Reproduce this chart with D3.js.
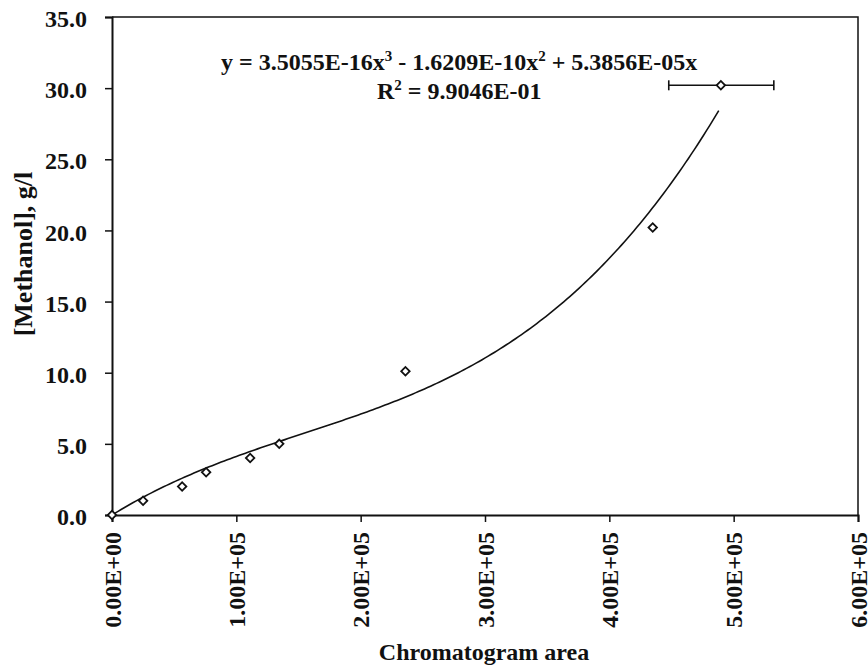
<!DOCTYPE html>
<html><head><meta charset="utf-8">
<script src="https://cdn.jsdelivr.net/npm/d3@7"></script>
<style>
html,body{margin:0;padding:0;background:#fff;}
svg text{font-family:"Liberation Serif","Times New Roman",serif;font-weight:bold;fill:#111;}
</style></head>
<body>
<svg id="chart" width="868" height="669"></svg>
<script>
// Data
const areas    = [0, 25000, 56400, 75700, 111100, 134500, 236000, 434900, 489700];
const methanol = [0, 1.0, 2.0, 3.0, 4.0, 5.0, 10.1, 20.2, 30.2];
const errLow   = [null, null, null, null, null, null, null, null, 447800];
const errHigh  = [null, null, null, null, null, null, null, null, 532300];
const coeffs   = [3.5055e-16, -1.6209e-10, 5.3856e-05]; // x^3, x^2, x
const fitRange = [0, 488000];
const xTicks = [0, 100000, 200000, 300000, 400000, 500000, 600000];
const xTickLabels = ["0.00E+00","1.00E+05","2.00E+05","3.00E+05","4.00E+05","5.00E+05","6.00E+05"];
const yTicks = [0, 5, 10, 15, 20, 25, 30, 35];
const yTickLabels = ["0.0","5.0","10.0","15.0","20.0","25.0","30.0","35.0"];

const W = 868, H = 669;
const m = {left:112, top:17, right:10, bottom:154};
const svg = d3.select("#chart");
const x = d3.scaleLinear().domain([0, 600000]).range([m.left, W - m.right]);
const y = d3.scaleLinear().domain([0, 35]).range([H - m.bottom, m.top]);

// frame (top and right)
svg.append("path")
  .attr("d", `M${x(0)},${y(35)}H${x(600000)}V${y(0)}`)
  .attr("fill","none").attr("stroke","#111").attr("stroke-width",1.5);

// axes
const yAxis = d3.axisLeft(y).tickValues(yTicks).tickFormat((d,i)=>yTickLabels[i]).tickSize(7).tickPadding(18);
const gy = svg.append("g").attr("transform",`translate(${x(0)},0)`).call(yAxis);
gy.select(".domain").attr("stroke","#111").attr("stroke-width",2);
gy.selectAll(".tick line").attr("stroke","#111").attr("stroke-width",1.5);
gy.selectAll(".tick text").style("font-size","24px").attr("dy","0.4em");

const xAxis = d3.axisBottom(x).tickValues(xTicks).tickFormat((d,i)=>xTickLabels[i]).tickSize(7);
const gx = svg.append("g").attr("transform",`translate(0,${y(0)})`).call(xAxis);
gx.select(".domain").attr("stroke","#111").attr("stroke-width",2);
gx.selectAll(".tick text")
  .style("font-size","24px")
  .attr("text-anchor","end")
  .attr("transform","rotate(-90)")
  .attr("x",-17).attr("y",0).attr("dy","0.34em");
gx.selectAll(".tick line").attr("stroke","#111").attr("stroke-width",1.5);

// fit curve
const poly = v => coeffs[0]*v*v*v + coeffs[1]*v*v + coeffs[2]*v;
const curvePts = d3.range(0, 201).map(i => fitRange[0] + (fitRange[1]-fitRange[0])*i/200);
svg.append("path")
  .datum(curvePts)
  .attr("fill","none").attr("stroke","#111").attr("stroke-width",1.6)
  .attr("d", d3.line().x(d=>x(d)).y(d=>y(poly(d))));

// error bars
const pts = areas.map((a,i)=>({a, v:methanol[i], lo:errLow[i], hi:errHigh[i]}));
const eb = pts.filter(p=>p.lo!=null);
const ebg = svg.append("g").attr("stroke","#111").attr("stroke-width",1.6);
eb.forEach(p=>{
  ebg.append("line").attr("x1",x(p.lo)).attr("x2",x(p.hi)).attr("y1",y(p.v)).attr("y2",y(p.v));
  ebg.append("line").attr("x1",x(p.lo)).attr("x2",x(p.lo)).attr("y1",y(p.v)-5).attr("y2",y(p.v)+5);
  ebg.append("line").attr("x1",x(p.hi)).attr("x2",x(p.hi)).attr("y1",y(p.v)-5).attr("y2",y(p.v)+5);
});

// markers (diamonds)
svg.append("g").selectAll("path").data(pts).join("path")
  .attr("transform",d=>`translate(${x(d.a)},${y(d.v)}) rotate(45)`)
  .attr("d", d3.symbol(d3.symbolSquare, 36))
  .attr("fill","#fff").attr("stroke","#111").attr("stroke-width",1.8);

// equation
const eq = svg.append("text").attr("x",221).attr("y",70).style("font-size","24px");
eq.append("tspan").text("y = 3.5055E-16x");
eq.append("tspan").attr("dy",-9).style("font-size","15px").text("3");
eq.append("tspan").attr("dy",9).text(" - 1.6209E-10x");
eq.append("tspan").attr("dy",-9).style("font-size","15px").text("2");
eq.append("tspan").attr("dy",9).text(" + 5.3856E-05x");

const r2 = svg.append("text").attr("x",377).attr("y",99).style("font-size","24px");
r2.append("tspan").text("R");
r2.append("tspan").attr("dy",-9).style("font-size","15px").text("2");
r2.append("tspan").attr("dy",9).text(" = 9.9046E-01");

// axis titles
svg.append("text").attr("x",484).attr("y",660).attr("text-anchor","middle")
  .style("font-size","24px").text("Chromatogram area");
svg.append("text").attr("transform","translate(32,254) rotate(-90)").attr("text-anchor","middle")
  .style("font-size","26px").text("[Methanol], g/l");
</script>
</body></html>
